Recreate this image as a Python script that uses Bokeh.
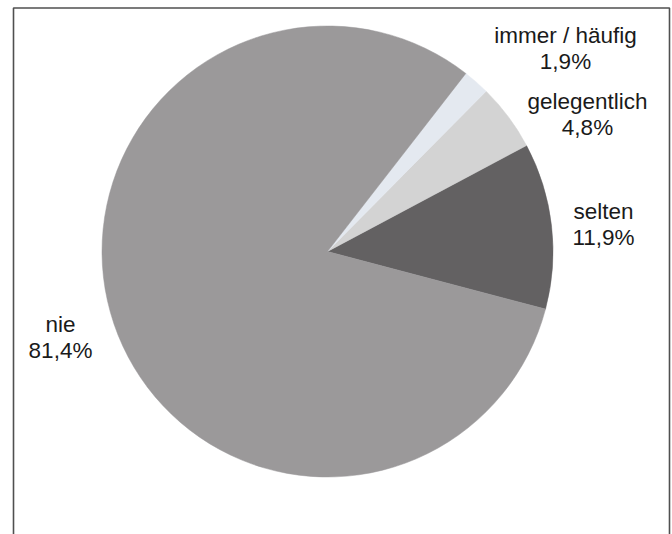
import math
from bokeh.plotting import figure
from bokeh.models import Range1d, ColumnDataSource
from bokeh.core.properties import value
from bokeh.embed import file_html
from bokeh.resources import INLINE

# ---- data ----
categories = ["immer / häufig", "gelegentlich", "selten", "nie"]
shares = [1.9, 4.8, 11.9, 81.4]
colors = ["#e4e9f0", "#d3d3d3", "#636162", "#9b999a"]

# ---- layout (reference pixel coordinates, y downward) ----
W, H = 672, 534
def Y(py):
    return H - py

cx, cy, R = 327, Y(251), 225.5
start_deg = -14.8   # where "selten" begins (counter-clockwise order below)
label_x = [565, 587, 603, 60]
label_y1 = [34.5, 101, 210.5, 324]
label_y2 = [60.5, 127, 236.5, 350]

# counter-clockwise drawing order: selten, gelegentlich, immer, nie
order = [2, 1, 0, 3]
starts, ends, fills = [], [], []
a = math.radians(start_deg)
for i in order:
    span = shares[i] / 100.0 * 2 * math.pi
    starts.append(a)
    ends.append(a + span)
    fills.append(colors[i])
    a += span

p = figure(width=W, height=H, output_backend="svg", toolbar_location=None,
           x_range=Range1d(0, W), y_range=Range1d(0, H),
           min_border=0, outline_line_color=None, background_fill_color="white")
p.axis.visible = False
p.grid.visible = False

# frame (left, top, right; bottom runs off the page)
p.line(x=[13, 13, 669, 669], y=[Y(545), Y(7.5), Y(7.5), Y(545)],
       line_color="#505050", line_width=1.6)

src = ColumnDataSource(dict(start=starts, end=ends, color=fills))
p.wedge(x=cx, y=cy, radius=R, start_angle="start", end_angle="end",
        fill_color="color", line_color="color", line_width=0.5, source=src)

pct = [f"{v:.1f}".replace(".", ",") + "%" for v in shares]
lab = ColumnDataSource(dict(x=label_x, y1=[Y(v) for v in label_y1],
                            y2=[Y(v) for v in label_y2], name=categories, pct=pct))
for ycol, tcol in (("y1", "name"), ("y2", "pct")):
    p.text(x="x", y=ycol, text=tcol, source=lab, text_align="center",
           text_baseline="alphabetic", text_font=value("Liberation Sans"),
           text_font_size="22.5px", text_color="#1a1a1a")

open("out.html", "w").write(file_html(p, INLINE))
